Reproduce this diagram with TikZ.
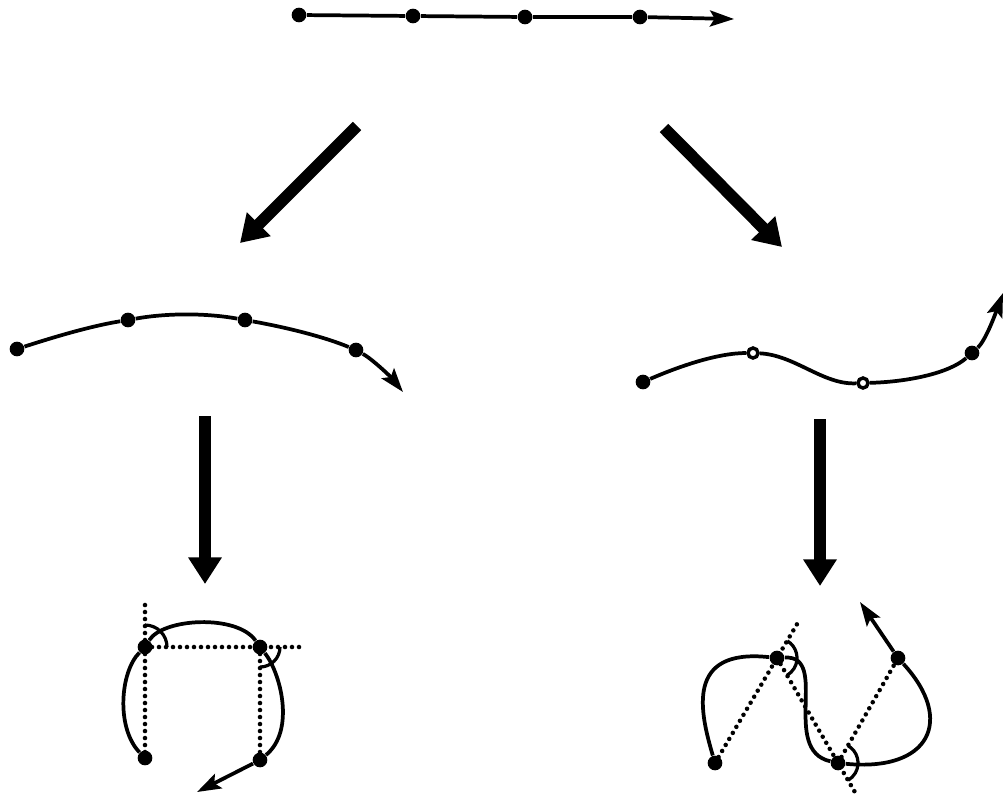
\documentclass[tikz,border=0pt]{standalone}
\usetikzlibrary{arrows.meta,calc}

\tikzset{every picture/.style={line width=0.75pt}}
\tikzset{
  ptdot/.style={circle,fill=black,inner sep=0pt,minimum size=11pt},
  ptring/.style={circle,draw=black,fill=white,line width=2.6pt,inner sep=0pt,minimum size=7.5pt},
  thinline/.style={line width=2.8pt},
  thinarrow/.style={thinline,-{Stealth[length=18pt,width=12pt,inset=3.5pt]}},
  bigarrow/.style={line width=9pt,-{Triangle[length=20pt,width=24pt]}},
  dotline/.style={line width=3.4pt,line cap=round,dash pattern=on 0pt off 5.25pt},
  anglemark/.style={line width=2.4pt},
}

\begin{document}
\begin{tikzpicture}[x=0.75pt,y=0.75pt,yscale=-1,xscale=1]
\useasboundingbox (0,0) rectangle (1005,800);

%Top line
\node[ptdot] (t1) at (299,15) {};
\node[ptdot] (t2) at (413,16) {};
\node[ptdot] (t3) at (525,17) {};
\node[ptdot] (t4) at (640,17) {};
\coordinate (tEnd) at (734,19);
\draw[thinarrow] (t1) -- (t2) -- (t3) -- (t4) -- (tEnd);

%Big arrows
\coordinate (aL1) at (357,126);
\coordinate (aL2) at (240,243);
\coordinate (aR1) at (664,128);
\coordinate (aR2) at (782,247);
\coordinate (aV1) at (205,416);
\coordinate (aV2) at (205,584);
\coordinate (aW1) at (820,419);
\coordinate (aW2) at (820,586);
\draw[bigarrow] (aL1) -- (aL2);
\draw[bigarrow] (aR1) -- (aR2);
\draw[bigarrow] (aV1) -- (aV2);
\draw[bigarrow] (aW1) -- (aW2);

%Curve Lines - left arc
\node[ptdot] (m1) at (17,349) {};
\node[ptdot] (m2) at (128,320) {};
\node[ptdot] (m3) at (245,320) {};
\node[ptdot] (m4) at (356,350) {};
\coordinate (mEnd) at (403,392);
\draw[thinarrow] (m1) .. controls (54,337) and (91,326) .. (m2) .. controls (167,313) and (206,313) .. (m3) .. controls (284,327) and (322,336) .. (m4) .. controls (372,359) and (390,376) .. (mEnd);

%Curve Lines - right wave
\node[ptdot] (w1) at (643,382) {};
\node[ptring] (w2) at (753,353) {};
\node[ptring] (w3) at (863,383) {};
\node[ptdot] (w4) at (972,353) {};
\coordinate (wEnd) at (1003,293);
\draw[thinarrow] (w1) .. controls (680,366) and (718,353) .. (w2) .. controls (795,355) and (823,385) .. (w3) .. controls (905,382) and (948,374) .. (w4) .. controls (986,340) and (996,312) .. (wEnd);

%Bottom left
\node[ptdot] (A) at (145,647) {};
\node[ptdot] (B) at (260,647) {};
\node[ptdot] (C) at (145,758) {};
\node[ptdot] (D) at (260,760) {};
\coordinate (aTop) at (145,605);
\coordinate (bRight) at (302,647);
\coordinate (cEnd) at (197,792);
\draw[dotline] (aTop) -- (C.center);
\draw[dotline] (A.center) -- (bRight);
\draw[dotline] (B.center) -- (D.center);
\draw[thinarrow] (C) .. controls (116,728) and (120,672) .. (A) .. controls (163,618) and (237,614) .. (B) .. controls (280,672) and (296,730) .. (D) -- (cEnd);
\draw[anglemark] (A.center) ++(0,-22) arc (-90:0:22);
\draw[anglemark] (B.center) ++(20,0) arc (0:90:20);

%Bottom right
\node[ptdot] (P1) at (715,763) {};
\node[ptdot] (P2) at (777,658) {};
\node[ptdot] (P3) at (838,763) {};
\node[ptdot] (P4) at (898,658) {};
\coordinate (e1) at ($(P1)!1.33!(P2)$);
\coordinate (e2) at ($(P2)!1.3!(P3)$);
\coordinate (pEnd) at (860,602);
\draw[dotline] (P1.center) -- (e1);
\draw[dotline] (P2.center) -- (e2);
\draw[dotline] (P3.center) -- (P4.center);
\draw[thinarrow] (P1) .. controls (700,712) and (685,648) .. (P2) .. controls (830,655) and (780,750) .. (P3) .. controls (930,772) and (955,720) .. (P4) -- (pEnd);
\draw[anglemark] (P2.center) ++(-59:20) arc (-59:60:20);
\draw[anglemark] (P3.center) ++(-60:20) arc (-60:60:20);

\end{tikzpicture}
\end{document}
